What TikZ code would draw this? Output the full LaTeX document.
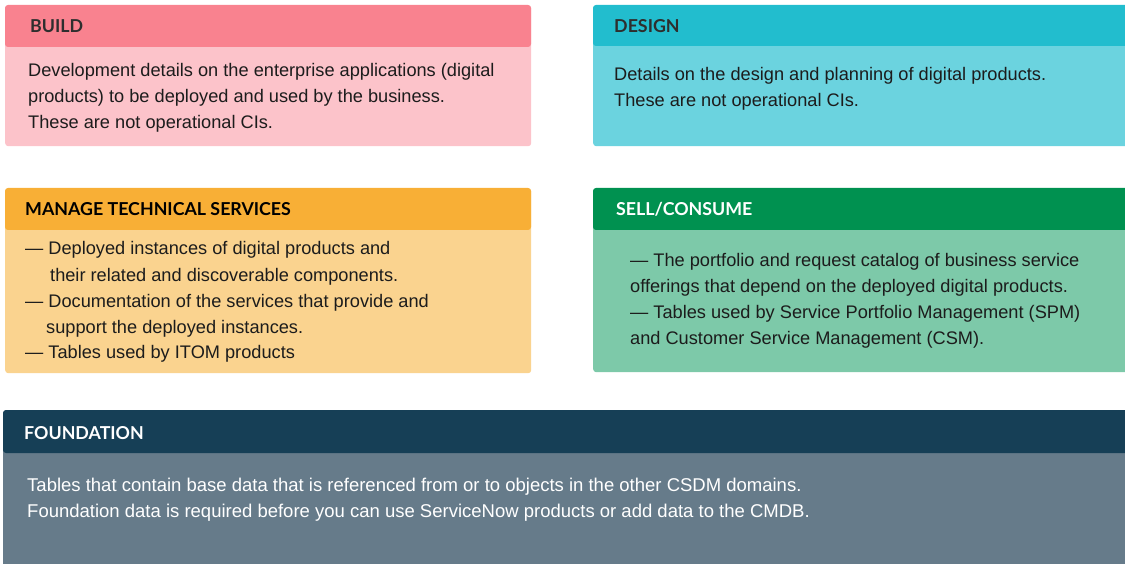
\documentclass[tikz,border=0pt]{standalone}
\usepackage{fontspec}
\setmainfont{Liberation Sans}
\newfontfamily\headfont{Lato}[UprightFont=* Bold]
\definecolor{buildH}{HTML}{F9828F}
\definecolor{buildB}{HTML}{FCC3CA}
\definecolor{designH}{HTML}{22BDCE}
\definecolor{designB}{HTML}{6BD3DF}
\definecolor{manageH}{HTML}{F8AF36}
\definecolor{manageB}{HTML}{FAD38F}
\definecolor{sellH}{HTML}{009150}
\definecolor{sellB}{HTML}{7DC9A9}
\definecolor{foundH}{HTML}{163F56}
\definecolor{foundB}{HTML}{667B8A}
\definecolor{txt}{HTML}{1C1C1C}
\definecolor{htxt}{HTML}{2E2E2E}
\tikzset{
  panel/.style={draw=none, fill=#1, rounded corners=3pt, inner sep=0pt, anchor=north west},
  headtext/.style={anchor=base west, inner sep=0pt, font=\headfont\fontsize{17.8}{20}\selectfont, text=htxt},
  bodytext/.style={anchor=base west, inner sep=0pt, font=\fontsize{18.2}{26}\selectfont, text=txt},
}
\newcommand{\linesbox}[1]{\parbox[t]{1090pt}{\raggedright #1}}
\begin{document}
\begin{tikzpicture}[x=1pt,y=-1pt]
\useasboundingbox (0,0) rectangle (1125,564);
% BUILD
\node[panel=buildB, minimum width=526pt, minimum height=141pt] (buildbox) at (5,5) {};
\fill[buildH, rounded corners=3pt] (5,47) -- (5,5) -- (531,5) -- (531,47) -- cycle;
\node[headtext] (buildh) at (30,33) {BUILD};
\node[bodytext] (buildt) at (28,77) {\linesbox{Development details on the enterprise applications (digital\\products) to be deployed and used by the business.\\These are not operational CIs.}};
% DESIGN
\node[panel=designB, minimum width=540pt, minimum height=141pt] (designbox) at (593,5) {};
\fill[designH, rounded corners=3pt] (593,46) -- (593,5) -- (1133,5) -- (1133,46) -- cycle;
\node[headtext] (designh) at (614,33) {DESIGN};
\node[bodytext] (designt) at (614,81) {\linesbox{Details on the design and planning of digital products.\\These are not operational CIs.}};
% MANAGE
\node[panel=manageB, minimum width=526pt, minimum height=185pt] (managebox) at (5,188) {};
\fill[manageH, rounded corners=3pt] (5,230) -- (5,188) -- (531,188) -- (531,230) -- cycle;
\node[headtext, text=black] (manageh) at (25,216) {MANAGE TECHNICAL SERVICES};
\node[bodytext] (managet) at (25,255) {\linesbox{— Deployed instances of digital products and\\\hspace*{25pt}their related and discoverable components.\\— Documentation of the services that provide and\\\hspace*{21pt}support the deployed instances.\\— Tables used by ITOM products}};
% SELL
\node[panel=sellB, minimum width=540pt, minimum height=184pt] (sellbox) at (593,188) {};
\fill[sellH, rounded corners=3pt] (593,230) -- (593,188) -- (1133,188) -- (1133,230) -- cycle;
\node[headtext, text=white] (sellh) at (616,216) {SELL/CONSUME};
\node[bodytext] (sellt) at (630,266) {\linesbox{— The portfolio and request catalog of business service\\offerings that depend on the deployed digital products.\\— Tables used by Service Portfolio Management (SPM)\\and Customer Service Management (CSM).}};
% FOUNDATION
\node[panel=foundB, minimum width=1130pt, minimum height=160pt] (foundbox) at (3,410) {};
\fill[foundH, rounded corners=3pt] (3,453) -- (3,410) -- (1133,410) -- (1133,453) -- cycle;
\node[headtext, text=white] (foundh) at (24,439) {FOUNDATION};
\node[bodytext, text=white, font=\fontsize{18.5}{26}\selectfont] (foundt) at (27,491) {\linesbox{Tables that contain base data that is referenced from or to objects in the other CSDM domains.\\Foundation data is required before you can use ServiceNow products or add data to the CMDB.}};
\end{tikzpicture}
\end{document}
